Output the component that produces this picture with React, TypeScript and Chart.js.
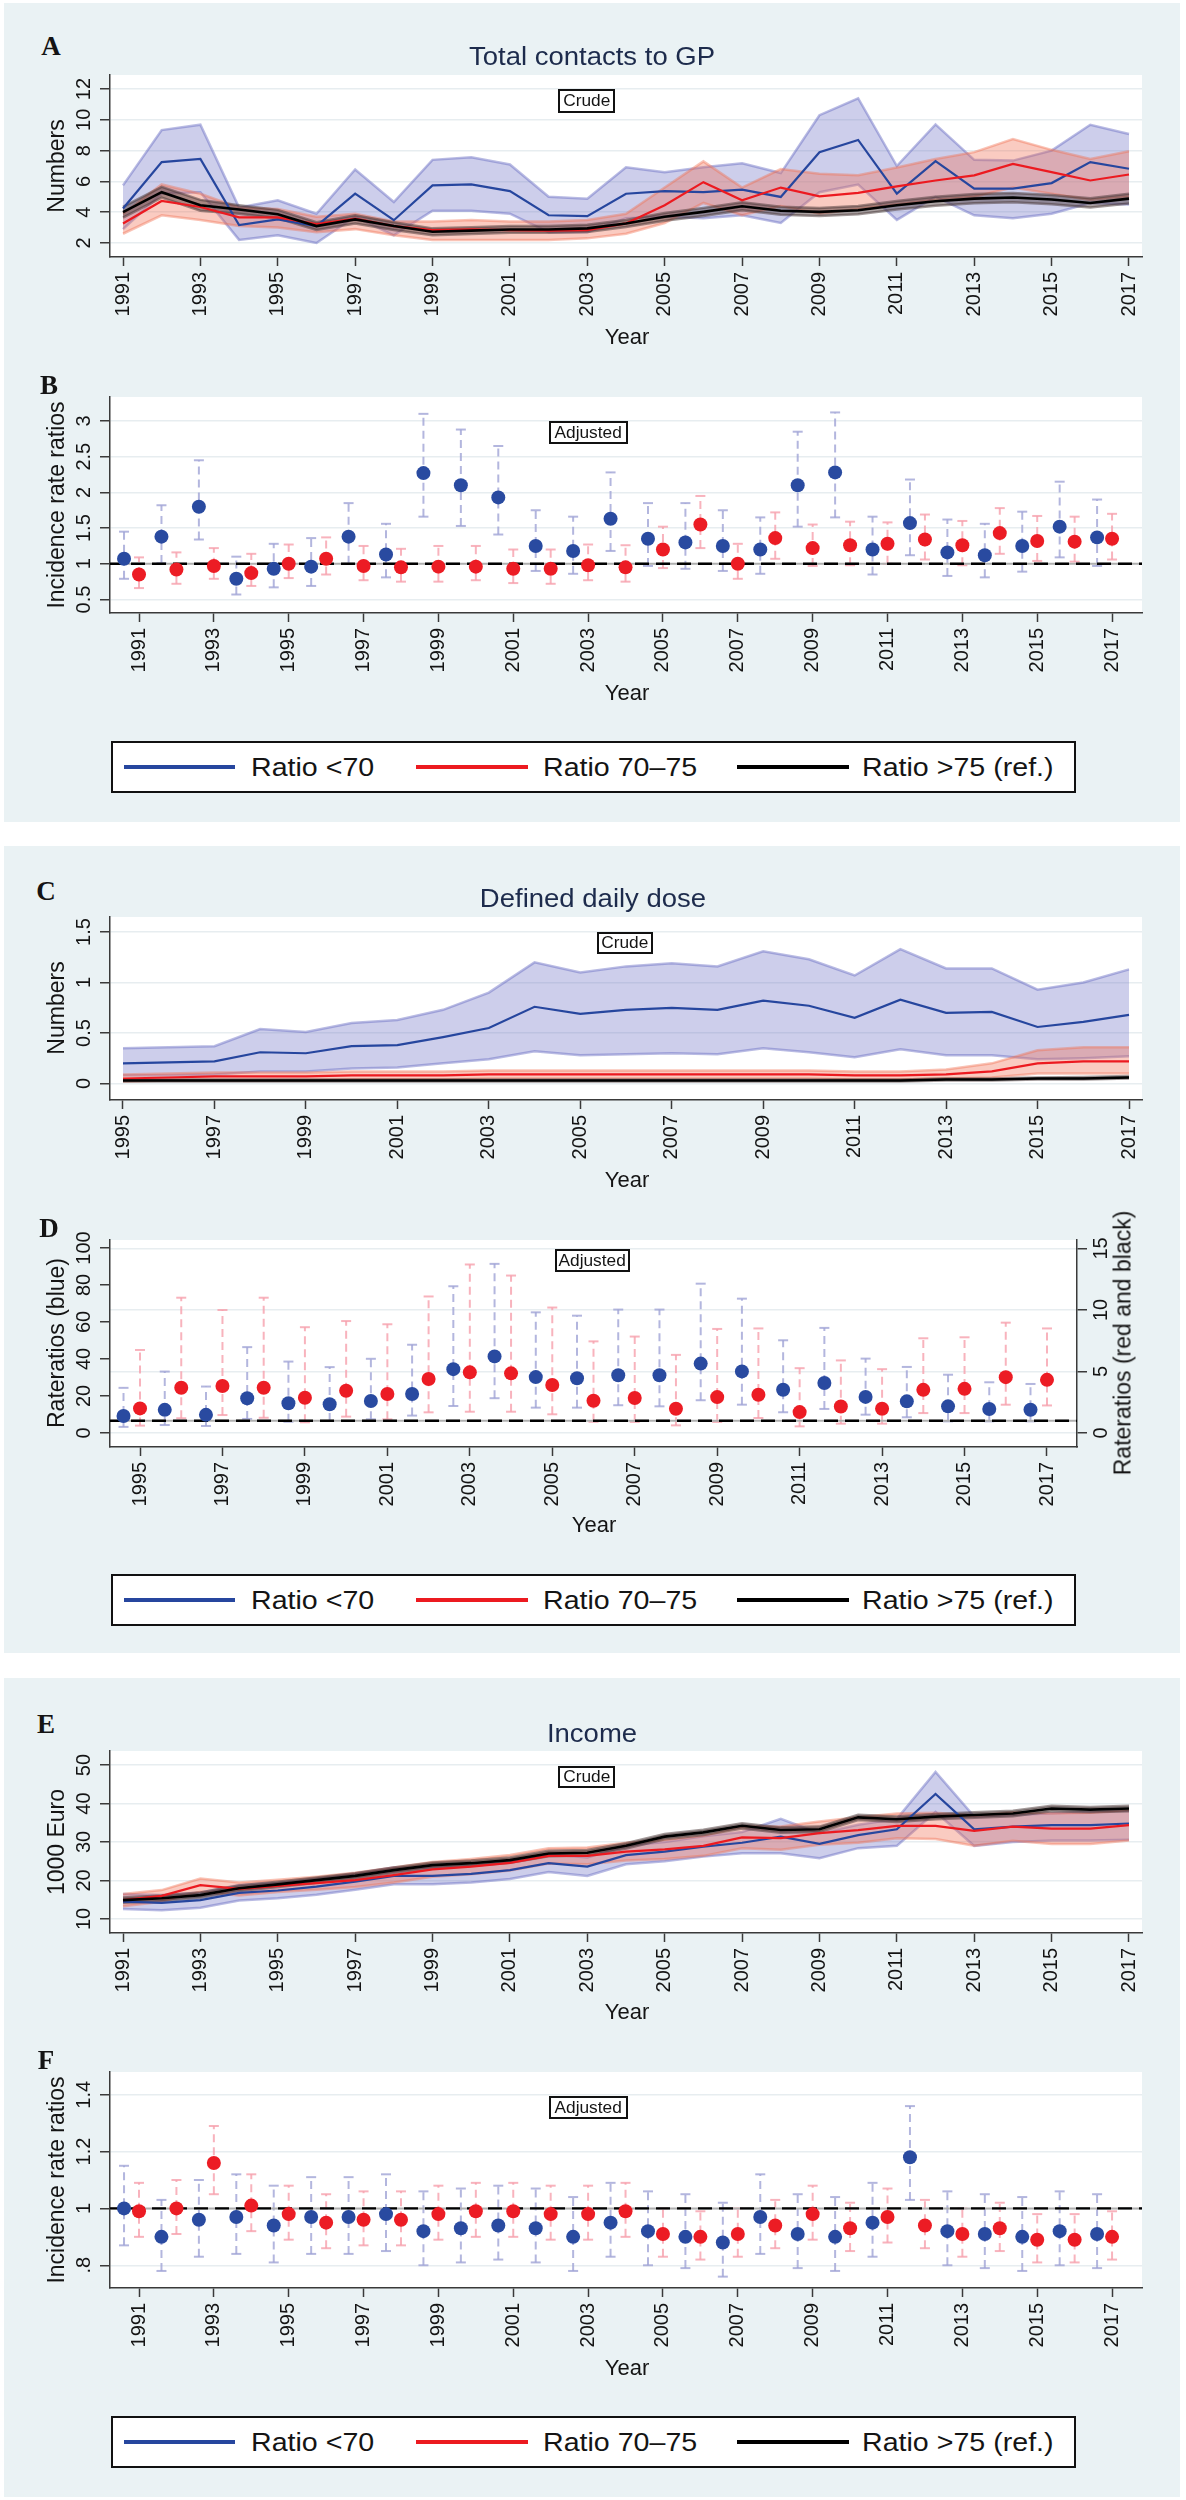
import React, { useEffect, useRef } from "react";
import { Chart, registerables } from "chart.js";

Chart.register(...registerables);

const FONT = '"Liberation Sans", Arial, Helvetica, sans-serif';
const SERIF = '"Liberation Serif", "Times New Roman", Times, serif';

// ---------------- categories / ticks ----------------
const YEARS = [1991, 1992, 1993, 1994, 1995, 1996, 1997, 1998, 1999, 2000, 2001, 2002, 2003, 2004, 2005, 2006, 2007, 2008, 2009, 2010, 2011, 2012, 2013, 2014, 2015, 2016, 2017];
const YEARS_DDD = [1995, 1996, 1997, 1998, 1999, 2000, 2001, 2002, 2003, 2004, 2005, 2006, 2007, 2008, 2009, 2010, 2011, 2012, 2013, 2014, 2015, 2016, 2017];
const XTICKS = [1991, 1993, 1995, 1997, 1999, 2001, 2003, 2005, 2007, 2009, 2011, 2013, 2015, 2017];
const XTICKS_DDD = [1995, 1997, 1999, 2001, 2003, 2005, 2007, 2009, 2011, 2013, 2015, 2017];

// ---------------- A: total contacts to GP (crude) ----------------
const gpBlue = [4.24, 7.25, 7.46, 3.16, 3.53, 3.1, 5.2, 3.48, 5.74, 5.81, 5.37, 3.8, 3.74, 5.2, 5.37, 5.3, 5.46, 4.99, 7.89, 8.69, 5.2, 7.31, 5.53, 5.53, 5.89, 7.25, 6.82];
const gpBlueHi = [5.74, 9.33, 9.68, 4.3, 4.77, 3.9, 6.77, 4.66, 7.4, 7.57, 7.1, 5.0, 4.88, 6.92, 6.6, 6.92, 7.18, 6.54, 10.3, 11.4, 7.0, 9.7, 7.4, 7.35, 8.0, 9.68, 9.08];
const gpBlueLo = [2.9, 5.2, 5.3, 2.2, 2.5, 2.0, 3.7, 2.5, 4.1, 4.1, 3.9, 2.7, 2.7, 3.6, 3.7, 3.6, 3.8, 3.3, 5.3, 5.8, 3.5, 5.0, 3.8, 3.6, 3.9, 4.6, 4.5];
const gpRed = [3.27, 4.73, 4.34, 3.66, 3.66, 3.23, 3.59, 3.1, 2.84, 2.88, 2.84, 2.8, 2.84, 3.27, 4.45, 5.95, 4.77, 5.6, 5.03, 5.25, 5.68, 6.06, 6.39, 7.14, 6.6, 6.06, 6.45];
const gpRedHi = [3.9, 5.8, 5.2, 4.3, 4.2, 3.7, 3.9, 3.4, 3.4, 3.5, 3.4, 3.4, 3.5, 3.9, 5.6, 7.3, 5.6, 6.8, 6.5, 6.4, 6.9, 7.46, 7.9, 8.75, 8.05, 7.46, 7.96];
const gpRedLo = [2.6, 3.8, 3.5, 3.1, 3.0, 2.7, 2.9, 2.5, 2.2, 2.2, 2.2, 2.2, 2.3, 2.6, 3.3, 4.6, 3.8, 4.4, 3.9, 4.2, 4.5, 4.8, 5.0, 5.6, 5.2, 4.8, 5.0];
const gpBlack = [4.0, 5.3, 4.45, 4.17, 3.87, 3.1, 3.53, 3.1, 2.73, 2.8, 2.88, 2.88, 2.95, 3.27, 3.7, 4.02, 4.39, 4.09, 4.02, 4.13, 4.45, 4.71, 4.88, 4.95, 4.82, 4.6, 4.88];
const gpBlackHi = [4.35, 5.65, 4.8, 4.45, 4.15, 3.35, 3.8, 3.35, 2.95, 3.02, 3.1, 3.1, 3.18, 3.5, 3.95, 4.28, 4.65, 4.35, 4.28, 4.4, 4.72, 5.0, 5.18, 5.25, 5.12, 4.9, 5.2];
const gpBlackLo = [3.65, 4.95, 4.1, 3.9, 3.6, 2.85, 3.27, 2.85, 2.5, 2.58, 2.66, 2.66, 2.72, 3.04, 3.45, 3.76, 4.13, 3.83, 3.76, 3.86, 4.18, 4.42, 4.58, 4.65, 4.52, 4.3, 4.56];

// ---------------- B: incidence rate ratios, GP contacts (adjusted) ----------------
const irrGpBlue = [1.07, 1.38, 1.8, 0.79, 0.93, 0.96, 1.38, 1.13, 2.27, 2.1, 1.93, 1.25, 1.18, 1.63, 1.35, 1.3, 1.25, 1.2, 2.1, 2.28, 1.2, 1.57, 1.16, 1.12, 1.25, 1.52, 1.37];
const irrGpBlueHi = [1.45, 1.82, 2.45, 1.1, 1.28, 1.36, 1.85, 1.56, 3.1, 2.88, 2.65, 1.75, 1.66, 2.28, 1.85, 1.85, 1.75, 1.65, 2.85, 3.12, 1.66, 2.18, 1.62, 1.56, 1.73, 2.15, 1.9];
const irrGpBlueLo = [0.79, 1.01, 1.34, 0.57, 0.67, 0.69, 1.0, 0.81, 1.66, 1.53, 1.41, 0.9, 0.86, 1.18, 0.97, 0.93, 0.9, 0.86, 1.52, 1.65, 0.85, 1.12, 0.83, 0.81, 0.89, 1.09, 0.97];
const irrGpRed = [0.85, 0.92, 0.97, 0.87, 1.0, 1.07, 0.97, 0.95, 0.96, 0.96, 0.93, 0.93, 0.98, 0.95, 1.2, 1.55, 1.0, 1.36, 1.22, 1.26, 1.28, 1.34, 1.26, 1.43, 1.32, 1.31, 1.35];
const irrGpRedHi = [1.09, 1.16, 1.22, 1.14, 1.27, 1.37, 1.25, 1.21, 1.25, 1.25, 1.2, 1.2, 1.27, 1.26, 1.52, 1.95, 1.28, 1.72, 1.55, 1.59, 1.58, 1.69, 1.6, 1.78, 1.67, 1.66, 1.7];
const irrGpRedLo = [0.66, 0.72, 0.79, 0.69, 0.8, 0.85, 0.77, 0.75, 0.75, 0.77, 0.73, 0.72, 0.77, 0.75, 0.94, 1.22, 0.79, 1.07, 0.97, 0.98, 1.0, 1.06, 0.98, 1.14, 1.04, 1.03, 1.06];

// ---------------- C: defined daily dose (crude) ----------------
const dddBlue = [0.2, 0.21, 0.22, 0.31, 0.3, 0.37, 0.38, 0.46, 0.55, 0.76, 0.69, 0.73, 0.75, 0.73, 0.82, 0.77, 0.65, 0.83, 0.7, 0.71, 0.56, 0.61, 0.68];
const dddBlueHi = [0.35, 0.36, 0.37, 0.54, 0.51, 0.6, 0.63, 0.73, 0.9, 1.2, 1.1, 1.16, 1.19, 1.16, 1.31, 1.23, 1.07, 1.33, 1.14, 1.14, 0.93, 1.0, 1.13];
const dddBlueLo = [0.08, 0.08, 0.09, 0.12, 0.12, 0.15, 0.16, 0.2, 0.24, 0.32, 0.28, 0.29, 0.3, 0.29, 0.35, 0.31, 0.26, 0.34, 0.28, 0.28, 0.24, 0.25, 0.27];
const dddRed = [0.05, 0.06, 0.07, 0.07, 0.07, 0.08, 0.08, 0.08, 0.09, 0.09, 0.09, 0.09, 0.09, 0.09, 0.09, 0.09, 0.08, 0.08, 0.09, 0.12, 0.2, 0.22, 0.22];
const dddRedHi = [0.09, 0.1, 0.11, 0.11, 0.11, 0.12, 0.12, 0.12, 0.13, 0.13, 0.13, 0.13, 0.13, 0.13, 0.13, 0.13, 0.12, 0.12, 0.14, 0.2, 0.33, 0.36, 0.36];
const dddRedLo = [0.02, 0.03, 0.03, 0.03, 0.03, 0.04, 0.04, 0.04, 0.05, 0.05, 0.05, 0.05, 0.05, 0.05, 0.05, 0.05, 0.04, 0.04, 0.05, 0.06, 0.1, 0.1, 0.1];
const dddBlack = [0.03, 0.03, 0.03, 0.03, 0.03, 0.03, 0.03, 0.03, 0.03, 0.03, 0.03, 0.03, 0.03, 0.03, 0.03, 0.03, 0.03, 0.03, 0.04, 0.04, 0.05, 0.05, 0.06];
const dddBlackHi = [0.04, 0.04, 0.04, 0.04, 0.04, 0.04, 0.04, 0.04, 0.04, 0.04, 0.04, 0.04, 0.04, 0.04, 0.04, 0.04, 0.04, 0.04, 0.05, 0.05, 0.06, 0.065, 0.075];
const dddBlackLo = [0.02, 0.02, 0.02, 0.02, 0.02, 0.02, 0.02, 0.02, 0.02, 0.02, 0.02, 0.02, 0.02, 0.02, 0.02, 0.02, 0.02, 0.02, 0.03, 0.03, 0.04, 0.04, 0.05];

// ---------------- D: rate ratios, DDD (adjusted) ----------------
const rrDddBlue = [9.2, 12.5, 9.8, 18.8, 16.1, 15.5, 17.3, 21.1, 34.5, 41.4, 30.2, 29.6, 31.2, 31.2, 37.5, 33.3, 23.4, 27.0, 19.5, 17.1, 14.4, 13.0, 12.6];
const rrDddBlueHi = [24.4, 33.2, 25.1, 46.4, 38.6, 35.6, 40.1, 47.7, 79.3, 91.4, 65.2, 63.4, 66.7, 66.7, 80.7, 72.6, 50.1, 56.8, 40.2, 35.7, 31.5, 27.4, 26.5];
const rrDddBlueLo = [3.3, 4.3, 3.8, 7.6, 6.1, 6.5, 7.4, 9.4, 14.6, 18.8, 13.7, 13.7, 15.0, 14.4, 17.7, 15.3, 11.2, 13.0, 9.9, 8.5, 6.3, 6.3, 6.3];
const rrDddRed = [2.0, 3.68, 3.82, 3.68, 2.87, 3.44, 3.17, 4.39, 4.93, 4.85, 3.9, 2.62, 2.84, 1.97, 2.92, 3.11, 1.7, 2.16, 1.97, 3.51, 3.59, 4.54, 4.32];
const rrDddRedHi = [6.75, 11.0, 10.0, 11.0, 8.6, 9.1, 8.84, 11.1, 13.7, 12.8, 10.2, 7.45, 7.84, 6.35, 8.46, 8.5, 5.27, 5.9, 5.19, 7.7, 7.78, 8.97, 8.5];
const rrDddRedLo = [0.6, 1.2, 1.46, 1.24, 0.87, 1.33, 1.11, 1.68, 1.73, 1.73, 1.52, 0.91, 0.9, 0.62, 0.9, 1.22, 0.54, 0.76, 0.76, 1.62, 1.62, 2.3, 2.24];

// ---------------- E: income (crude, 1000 Euro) ----------------
const incBlue = [14.5, 14.2, 14.9, 16.8, 17.4, 18.4, 19.7, 21.2, 21.2, 21.7, 22.7, 24.5, 23.6, 26.6, 27.5, 28.8, 29.8, 31.4, 29.5, 31.8, 33.3, 42.5, 33.3, 34.0, 34.4, 34.4, 34.8];
const incBlueHi = [16.5, 16.2, 16.9, 18.8, 19.5, 20.5, 21.8, 23.4, 23.4, 23.9, 25.0, 26.8, 26.0, 29.0, 30.0, 31.5, 32.6, 36.0, 32.3, 34.5, 36.0, 48.2, 36.6, 37.0, 37.5, 37.8, 38.2];
const incBlueLo = [12.6, 12.3, 12.9, 14.8, 15.4, 16.3, 17.6, 19.0, 19.0, 19.5, 20.4, 22.2, 21.2, 24.2, 25.0, 26.2, 27.1, 27.1, 25.8, 28.4, 29.0, 37.8, 29.0, 30.0, 30.4, 30.4, 30.6];
const incRed = [14.9, 16.0, 18.8, 17.8, 18.6, 19.3, 20.1, 21.4, 22.9, 23.6, 24.6, 26.4, 26.4, 27.5, 28.1, 29.0, 31.2, 31.0, 32.3, 33.1, 34.2, 34.2, 32.9, 34.0, 33.5, 33.5, 34.4];
const incRedHi = [16.5, 17.5, 20.5, 19.5, 20.2, 21.0, 22.0, 23.4, 24.8, 25.6, 26.6, 28.4, 28.6, 29.8, 30.6, 31.6, 34.0, 34.0, 35.3, 36.4, 37.4, 37.6, 36.8, 37.7, 37.5, 37.6, 38.4];
const incRedLo = [13.3, 14.5, 17.1, 16.1, 17.0, 17.6, 18.3, 19.5, 21.0, 21.6, 22.6, 24.4, 24.2, 25.2, 25.6, 26.4, 28.4, 28.0, 29.3, 29.8, 31.0, 30.8, 29.0, 30.3, 29.5, 29.5, 30.4];
const incBlack = [14.9, 15.4, 16.2, 18.0, 19.0, 20.1, 21.2, 22.7, 24.0, 24.5, 25.3, 27.0, 27.2, 29.0, 31.4, 32.5, 34.2, 33.1, 33.3, 36.4, 35.9, 36.6, 37.0, 37.4, 38.7, 38.4, 38.7];
const incBlackHi = [15.6, 16.1, 16.9, 18.7, 19.7, 20.8, 21.9, 23.4, 24.7, 25.2, 26.0, 27.7, 27.9, 29.7, 32.1, 33.2, 34.9, 33.8, 34.0, 37.1, 36.6, 37.3, 37.7, 38.1, 39.4, 39.1, 39.4];
const incBlackLo = [14.2, 14.7, 15.5, 17.3, 18.3, 19.4, 20.5, 22.0, 23.3, 23.8, 24.6, 26.3, 26.5, 28.3, 30.7, 31.8, 33.5, 32.4, 32.6, 35.7, 35.2, 35.9, 36.3, 36.7, 38.0, 37.7, 38.0];

// ---------------- F: incidence rate ratios, income (adjusted) ----------------
const irrIncBlue = [1.0, 0.9, 0.96, 0.97, 0.94, 0.97, 0.97, 0.98, 0.92, 0.93, 0.94, 0.93, 0.9, 0.95, 0.92, 0.9, 0.88, 0.97, 0.91, 0.9, 0.95, 1.18, 0.92, 0.91, 0.9, 0.92, 0.91];
const irrIncBlueHi = [1.15, 1.03, 1.1, 1.12, 1.08, 1.11, 1.11, 1.12, 1.06, 1.07, 1.08, 1.07, 1.04, 1.09, 1.06, 1.05, 1.02, 1.12, 1.05, 1.04, 1.09, 1.36, 1.06, 1.05, 1.04, 1.06, 1.05];
const irrIncBlueLo = [0.87, 0.78, 0.83, 0.84, 0.81, 0.84, 0.84, 0.85, 0.8, 0.81, 0.82, 0.81, 0.78, 0.83, 0.8, 0.79, 0.76, 0.84, 0.79, 0.78, 0.83, 1.03, 0.8, 0.79, 0.78, 0.8, 0.79];
const irrIncRed = [0.99, 1.0, 1.16, 1.01, 0.98, 0.95, 0.96, 0.96, 0.98, 0.99, 0.99, 0.98, 0.98, 0.99, 0.91, 0.9, 0.91, 0.94, 0.98, 0.93, 0.97, 0.94, 0.91, 0.93, 0.89, 0.89, 0.9];
const irrIncRedHi = [1.09, 1.1, 1.29, 1.12, 1.08, 1.05, 1.06, 1.06, 1.08, 1.09, 1.09, 1.08, 1.08, 1.09, 1.0, 0.99, 1.0, 1.03, 1.08, 1.02, 1.07, 1.03, 1.0, 1.02, 0.98, 0.98, 0.99];
const irrIncRedLo = [0.9, 0.91, 1.05, 0.92, 0.89, 0.86, 0.87, 0.87, 0.89, 0.9, 0.9, 0.89, 0.89, 0.9, 0.83, 0.82, 0.83, 0.86, 0.89, 0.85, 0.88, 0.86, 0.83, 0.85, 0.81, 0.81, 0.82];

// reference level (ratio > 75 = 1)
const REF_LEVEL = 1;

// ---------------- y ticks ----------------
const YT_A = [2, 4, 6, 8, 10, 12];
const YL_A = ["2", "4", "6", "8", "10", "12"];
const YT_B = [0.5, 1, 1.5, 2, 2.5, 3];
const YL_B = ["0.5", "1", "1.5", "2", "2.5", "3"];
const YT_C = [0, 0.5, 1, 1.5];
const YL_C = ["0", "0.5", "1", "1.5"];
const YT_D = [0, 20, 40, 60, 80, 100];
const YL_D = ["0", "20", "40", "60", "80", "100"];
const YT_D2 = [0, 5, 10, 15];
const YL_D2 = ["0", "5", "10", "15"];
const YT_E = [10, 20, 30, 40, 50];
const YL_E = ["10", "20", "30", "40", "50"];
const YT_F = [0.8, 1, 1.2, 1.4];
const YL_F = [".8", "1", "1.2", "1.4"];

// ---------------- styles ----------------
const PANEL_BG = "rgb(234,242,244)";
const GRID = "rgb(231,237,240)";
const AX = "#3a3a3a";
const TEXT = "#141414";
const TITLE = "#1d2b4c";
const BLUE_LINE = "rgb(38,70,158)";
const RED_LINE = "rgb(236,26,32)";
const BLACK_LINE = "#000000";
const BLUE_BAND = "rgba(100,104,192,0.32)";
const BLUE_EDGE = "rgba(100,104,192,0.45)";
const RED_BAND = "rgba(240,112,82,0.36)";
const RED_EDGE = "rgba(240,112,82,0.42)";
const BLACK_BAND = "rgba(70,52,52,0.45)";
const BLACK_EDGE = "rgba(70,52,52,0.5)";
const BLUE_DOT = "rgb(41,74,160)";
const RED_DOT = "rgb(236,28,36)";
const BLUE_CI = "rgba(160,164,214,0.8)";
const RED_CI = "rgba(246,160,172,0.8)";
const DODGE = 0.4;

const PAGE_W = 1186;
const PAD_TOP = 8;
const X_AXIS_H = 72;

type Rect = { l: number; t: number; r: number; b: number };
type AxisSpec = { min: number; max: number; ticks: number[]; labels: string[] };
type SubSpec = {
  rect: Rect;
  x: { min: number; max: number; ticks: number[] };
  y: AxisSpec;
  y2?: AxisSpec;
  datasets: any[];
};

const pts = (xs: number[], ys: number[], dx = 0) => xs.map((x, i) => ({ x: x + dx, y: ys[i] }));

function bandDatasets(xs: number[], lo: number[], mean: number[], hi: number[], band: string, edge: string, line: string, lineW: number, bandOrder: number, lineOrder: number) {
  return [
    { type: "line", data: pts(xs, hi), borderColor: edge, borderWidth: 2.5, backgroundColor: band, fill: "+1", pointRadius: 0, tension: 0, order: bandOrder },
    { type: "line", data: pts(xs, lo), borderColor: edge, borderWidth: 2.5, fill: false, pointRadius: 0, tension: 0, order: bandOrder },
    { type: "line", data: pts(xs, mean), borderColor: line, borderWidth: lineW, fill: false, pointRadius: 0, tension: 0, order: lineOrder },
  ];
}

function lineDatasetsAll(xs: number[], b: number[][], r: number[][], k: number[][]) {
  return [
    ...bandDatasets(xs, b[0], b[1], b[2], BLUE_BAND, BLUE_EDGE, BLUE_LINE, 2.2, 30, 3),
    ...bandDatasets(xs, r[0], r[1], r[2], RED_BAND, RED_EDGE, RED_LINE, 2.2, 20, 2),
    ...bandDatasets(xs, k[0], k[1], k[2], BLACK_BAND, BLACK_EDGE, BLACK_LINE, 2.6, 10, 1),
  ];
}

function ciSegments(xs: number[], lo: number[], hi: number[], dx: number) {
  const out: any[] = [];
  xs.forEach((x, i) => {
    out.push({ x: x + dx, y: lo[i] }, { x: x + dx, y: hi[i] }, { x: x + dx, y: null });
  });
  return out;
}
function ciCaps(xs: number[], lo: number[], hi: number[], dx: number) {
  const out: any[] = [];
  xs.forEach((x, i) => {
    out.push({ x: x + dx, y: lo[i] }, { x: x + dx, y: hi[i] });
  });
  return out;
}

function dotDatasets(xs: number[], b: number[][], r: number[][], xMin: number, xMax: number, yBlue = "y", yRed = "y") {
  return [
    { type: "line", data: ciSegments(xs, b[0], b[2], -DODGE), yAxisID: yBlue, borderColor: BLUE_CI, borderWidth: 2, borderDash: [8, 5], pointRadius: 0, spanGaps: false, fill: false, order: 40 },
    { type: "line", data: ciSegments(xs, r[0], r[2], 0), yAxisID: yRed, borderColor: RED_CI, borderWidth: 2, borderDash: [8, 5], pointRadius: 0, spanGaps: false, fill: false, order: 39 },
    { type: "line", data: ciCaps(xs, b[0], b[2], -DODGE), yAxisID: yBlue, showLine: false, pointStyle: "line", pointRadius: 5, pointBorderWidth: 2, pointBorderColor: BLUE_CI, order: 38 },
    { type: "line", data: ciCaps(xs, r[0], r[2], 0), yAxisID: yRed, showLine: false, pointStyle: "line", pointRadius: 5, pointBorderWidth: 2, pointBorderColor: RED_CI, order: 37 },
    { type: "line", data: [{ x: xMin, y: REF_LEVEL }, { x: xMax, y: REF_LEVEL }], yAxisID: yRed, borderColor: "rgba(175,175,175,1)", borderWidth: 2, pointRadius: 0, fill: false, order: 12 },
    { type: "line", data: [{ x: xMin, y: REF_LEVEL }, { x: xMax, y: REF_LEVEL }], yAxisID: yRed, borderColor: "#000", borderWidth: 2.4, borderDash: [14, 7], pointRadius: 0, fill: false, order: 11 },
    { type: "line", data: pts(xs, b[1], -DODGE), yAxisID: yBlue, showLine: false, pointRadius: 7, pointBorderWidth: 0, pointBackgroundColor: BLUE_DOT, order: 2 },
    { type: "line", data: pts(xs, r[1], 0), yAxisID: yRed, showLine: false, pointRadius: 7, pointBorderWidth: 0, pointBackgroundColor: RED_DOT, order: 1 },
  ];
}

// ---------------- sub-chart specs ----------------
const X_LONG_A = { min: 1990.664, max: 2017.336, ticks: XTICKS };
const X_LONG_B = { min: 1990.225, max: 2017.8, ticks: XTICKS };

const SPECS: SubSpec[] = [
  {
    rect: { l: 110, t: 75, r: 1142, b: 257 },
    x: X_LONG_A,
    y: { min: 1.09, max: 12.91, ticks: YT_A, labels: YL_A },
    datasets: lineDatasetsAll(YEARS, [gpBlueLo, gpBlue, gpBlueHi], [gpRedLo, gpRed, gpRedHi], [gpBlackLo, gpBlack, gpBlackHi]),
  },
  {
    rect: { l: 110, t: 397, r: 1142, b: 613 },
    x: X_LONG_B,
    y: { min: 0.311, max: 3.336, ticks: YT_B, labels: YL_B },
    datasets: dotDatasets(YEARS, [irrGpBlueLo, irrGpBlue, irrGpBlueHi], [irrGpRedLo, irrGpRed, irrGpRedHi], X_LONG_B.min, X_LONG_B.max),
  },
  {
    rect: { l: 110, t: 917, r: 1142, b: 1100 },
    x: { min: 1994.716, max: 2017.284, ticks: XTICKS_DDD },
    y: { min: -0.163, max: 1.649, ticks: YT_C, labels: YL_C },
    datasets: lineDatasetsAll(YEARS_DDD, [dddBlueLo, dddBlue, dddBlueHi], [dddRedLo, dddRed, dddRedHi], [dddBlackLo, dddBlack, dddBlackHi]),
  },
  {
    rect: { l: 110, t: 1240, r: 1077, b: 1447 },
    x: { min: 1994.272, max: 2017.728, ticks: XTICKS_DDD },
    y: { min: -7.57, max: 104.3, ticks: YT_D, labels: YL_D },
    y2: { min: -1.138, max: 15.69, ticks: YT_D2, labels: YL_D2 },
    datasets: dotDatasets(YEARS_DDD, [rrDddBlueLo, rrDddBlue, rrDddBlueHi], [rrDddRedLo, rrDddRed, rrDddRedHi], 1994.272, 2017.728, "y", "y2"),
  },
  {
    rect: { l: 110, t: 1751, r: 1142, b: 1933 },
    x: X_LONG_A,
    y: { min: 6.36, max: 53.64, ticks: YT_E, labels: YL_E },
    datasets: lineDatasetsAll(YEARS, [incBlueLo, incBlue, incBlueHi], [incRedLo, incRed, incRedHi], [incBlackLo, incBlack, incBlackHi]),
  },
  {
    rect: { l: 110, t: 2072, r: 1142, b: 2288 },
    x: X_LONG_B,
    y: { min: 0.72, max: 1.48, ticks: YT_F, labels: YL_F },
    datasets: dotDatasets(YEARS, [irrIncBlueLo, irrIncBlue, irrIncBlueHi], [irrIncRedLo, irrIncRed, irrIncRedHi], X_LONG_B.min, X_LONG_B.max),
  },
];

function SubChart({ spec }: { spec: SubSpec }) {
  const ref = useRef<HTMLCanvasElement | null>(null);
  const h = PAD_TOP + (spec.rect.b - spec.rect.t) + X_AXIS_H;
  useEffect(() => {
    const canvas = ref.current;
    if (!canvas) return;
    const plotBg = {
      id: "plotBg",
      beforeDraw(chart: any) {
        const { ctx, chartArea: a } = chart;
        ctx.save();
        ctx.fillStyle = "#ffffff";
        ctx.fillRect(a.left, a.top, a.right - a.left, a.bottom - a.top);
        ctx.restore();
      },
    };
    const rotLabels = {
      id: "rotLabels",
      afterDraw(chart: any) {
        const ctx = chart.ctx;
        const a = chart.chartArea;
        const draw = (id: string, ax: AxisSpec, x: number) => {
          const sc = chart.scales[id];
          ctx.save();
          ctx.font = `20px ${FONT}`;
          ctx.fillStyle = TEXT;
          ctx.textAlign = "center";
          ctx.textBaseline = "middle";
          ax.ticks.forEach((v, i) => {
            const y = sc.getPixelForValue(v);
            ctx.save();
            ctx.translate(x, y);
            ctx.rotate(-Math.PI / 2);
            ctx.fillText(ax.labels[i], 0, 1);
            ctx.restore();
          });
          ctx.restore();
        };
        draw("y", spec.y, a.left - 27);
        if (spec.y2) draw("y2", spec.y2, a.right + 23);
      },
    };
    const yAxis = (ax: AxisSpec, pos: "left" | "right", width: number, grid: boolean) => ({
      type: "linear",
      position: pos,
      bounds: "data",
      min: ax.min,
      max: ax.max,
      afterBuildTicks: (s: any) => {
        s.ticks = ax.ticks.map((v) => ({ value: v }));
      },
      afterFit: (s: any) => {
        s.width = width;
        s.paddingTop = 0;
        s.paddingBottom = 0;
      },
      grid: { drawOnChartArea: grid, color: GRID, lineWidth: 1.5, drawTicks: true, tickLength: 10, tickColor: AX, tickWidth: 1.5 },
      border: { display: true, color: AX, width: 1.5 },
      ticks: { display: false },
    });
    const scales: any = {
      x: {
        type: "linear",
        bounds: "data",
        min: spec.x.min,
        max: spec.x.max,
        afterBuildTicks: (s: any) => {
          s.ticks = spec.x.ticks.map((v) => ({ value: v }));
        },
        afterFit: (s: any) => {
          s.height = X_AXIS_H;
          s.paddingLeft = 0;
          s.paddingRight = 0;
        },
        grid: { drawOnChartArea: false, drawTicks: true, tickLength: 9, tickColor: AX, tickWidth: 1.5 },
        border: { display: true, color: AX, width: 1.5 },
        ticks: {
          autoSkip: false,
          minRotation: 90,
          maxRotation: 90,
          padding: 6,
          color: TEXT,
          font: { family: FONT, size: 20 },
          callback: (v: any) => String(v),
        },
      },
      y: yAxis(spec.y, "left", spec.rect.l, !spec.y2),
    };
    if (spec.y2) scales.y2 = yAxis(spec.y2, "right", PAGE_W - spec.rect.r, true);
    const chart = new Chart(canvas, {
      type: "line",
      data: { datasets: spec.datasets },
      options: {
        responsive: false,
        maintainAspectRatio: false,
        animation: false,
        events: [],
        layout: { padding: { top: PAD_TOP, right: spec.y2 ? 0 : PAGE_W - spec.rect.r, left: 0, bottom: 0 } },
        plugins: { legend: { display: false }, tooltip: { enabled: false }, title: { display: false } },
        scales,
      } as any,
      plugins: [plotBg, rotLabels],
    } as any);
    return () => chart.destroy();
  }, [spec]);
  return (
    <canvas
      ref={ref}
      width={PAGE_W}
      height={h}
      style={{ position: "absolute", left: 0, top: spec.rect.t - PAD_TOP, width: PAGE_W, height: h }}
    />
  );
}

function Txt(props: { x: number; y: number; size: number; text: string; color?: string; rotate?: boolean; sx?: number; bold?: boolean; family?: string }) {
  const { x, y, size, text, color = TEXT, rotate = false, sx = 1, bold = false, family = FONT } = props;
  return (
    <div
      style={{
        position: "absolute",
        left: x,
        top: y,
        transform: `translate(-50%,-50%)${rotate ? " rotate(-90deg)" : ""}${sx !== 1 ? ` scaleX(${sx})` : ""}`,
        fontSize: size,
        lineHeight: 1,
        whiteSpace: "nowrap",
        color,
        fontWeight: bold ? 700 : 400,
        fontFamily: family,
      }}
    >
      {text}
    </div>
  );
}

function TagBox(props: { x: number; y: number; w: number; h: number; text: string }) {
  const { x, y, w, h, text } = props;
  return (
    <div
      style={{
        position: "absolute",
        left: x,
        top: y,
        width: w,
        height: h,
        boxSizing: "border-box",
        border: "2px solid #111",
        background: "#fff",
        display: "flex",
        alignItems: "center",
        justifyContent: "center",
        fontFamily: FONT,
        fontSize: 16,
        color: TEXT,
      }}
    >
      <span style={{ transform: "scaleX(1.08)" }}>{text}</span>
    </div>
  );
}

const LEGEND_ITEMS = [
  { color: BLUE_LINE, label: "Ratio <70", x1: 124, x2: 235, tx: 251 },
  { color: RED_LINE, label: "Ratio 70–75", x1: 416, x2: 528, tx: 543 },
  { color: BLACK_LINE, label: "Ratio >75 (ref.)", x1: 737, x2: 849, tx: 862 },
];

function Legend({ top }: { top: number }) {
  const L = 111;
  const H = 52;
  return (
    <div
      style={{
        position: "absolute",
        left: L,
        top,
        width: 1076 - L,
        height: H,
        boxSizing: "border-box",
        border: "2px solid #111",
        background: "#fff",
      }}
    >
      {LEGEND_ITEMS.map((it) => (
        <React.Fragment key={it.label}>
          <div style={{ position: "absolute", left: it.x1 - L - 2, top: H / 2 - 2 - 2, width: it.x2 - it.x1, height: 4, background: it.color }} />
          <div
            style={{
              position: "absolute",
              left: it.tx - L - 2,
              top: H / 2 - 2,
              transform: "translateY(-50%) scaleX(1.1)",
              transformOrigin: "left center",
              fontFamily: FONT,
              fontSize: 26,
              lineHeight: 1,
              whiteSpace: "nowrap",
              color: TEXT,
            }}
          >
            {it.label}
          </div>
        </React.Fragment>
      ))}
    </div>
  );
}

function PanelBg({ top, bottom }: { top: number; bottom: number }) {
  return <div style={{ position: "absolute", left: 4, top, width: 1180 - 4, height: bottom - top, background: PANEL_BG }} />;
}

export default function App() {
  return (
    <div style={{ position: "absolute", left: 0, top: 0, width: PAGE_W, height: 2500, background: "#fff", overflow: "hidden", fontFamily: FONT }}>
      <PanelBg top={3} bottom={822} />
      <PanelBg top={846} bottom={1653} />
      <PanelBg top={1678} bottom={2497} />

      {SPECS.map((s, i) => (
        <SubChart key={i} spec={s} />
      ))}

      {/* panel letters */}
      <Txt x={51} y={46} size={27} text="A" bold family={SERIF} />
      <Txt x={49} y={385} size={27} text="B" bold family={SERIF} />
      <Txt x={46} y={891} size={27} text="C" bold family={SERIF} />
      <Txt x={49} y={1228} size={27} text="D" bold family={SERIF} />
      <Txt x={46} y={1724} size={27} text="E" bold family={SERIF} />
      <Txt x={46} y={2060} size={27} text="F" bold family={SERIF} />

      {/* titles */}
      <Txt x={592} y={56} size={25} sx={1.1} color={TITLE} text="Total contacts to GP" />
      <Txt x={593} y={898} size={25} sx={1.1} color={TITLE} text="Defined daily dose" />
      <Txt x={592} y={1733} size={25} sx={1.1} color={TITLE} text="Income" />

      {/* y titles */}
      <Txt x={56} y={166} size={23} rotate text="Numbers" />
      <Txt x={56} y={505} size={23} rotate text="Incidence rate ratios" />
      <Txt x={56} y={1008} size={23} rotate text="Numbers" />
      <Txt x={56} y={1343} size={23} rotate text="Rateratios (blue)" />
      <Txt x={1123} y={1343} size={23} rotate text="Rateratios (red and black)" />
      <Txt x={56} y={1842} size={23} rotate text="1000 Euro" />
      <Txt x={56} y={2180} size={23} rotate text="Incidence rate ratios" />

      {/* x titles */}
      <Txt x={627} y={337} size={22} text="Year" />
      <Txt x={627} y={693} size={22} text="Year" />
      <Txt x={627} y={1180} size={22} text="Year" />
      <Txt x={594} y={1525} size={22} text="Year" />
      <Txt x={627} y={2012} size={22} text="Year" />
      <Txt x={627} y={2368} size={22} text="Year" />

      {/* crude / adjusted tags */}
      <TagBox x={558} y={89} w={57} h={24} text="Crude" />
      <TagBox x={549} y={421} w={79} h={23} text="Adjusted" />
      <TagBox x={597} y={932} w={56} h={22} text="Crude" />
      <TagBox x={555} y={1249} w={75} h={23} text="Adjusted" />
      <TagBox x={558} y={1766} w={57} h={22} text="Crude" />
      <TagBox x={549} y={2096} w={79} h={23} text="Adjusted" />

      <Legend top={741} />
      <Legend top={1574} />
      <Legend top={2416} />
    </div>
  );
}
